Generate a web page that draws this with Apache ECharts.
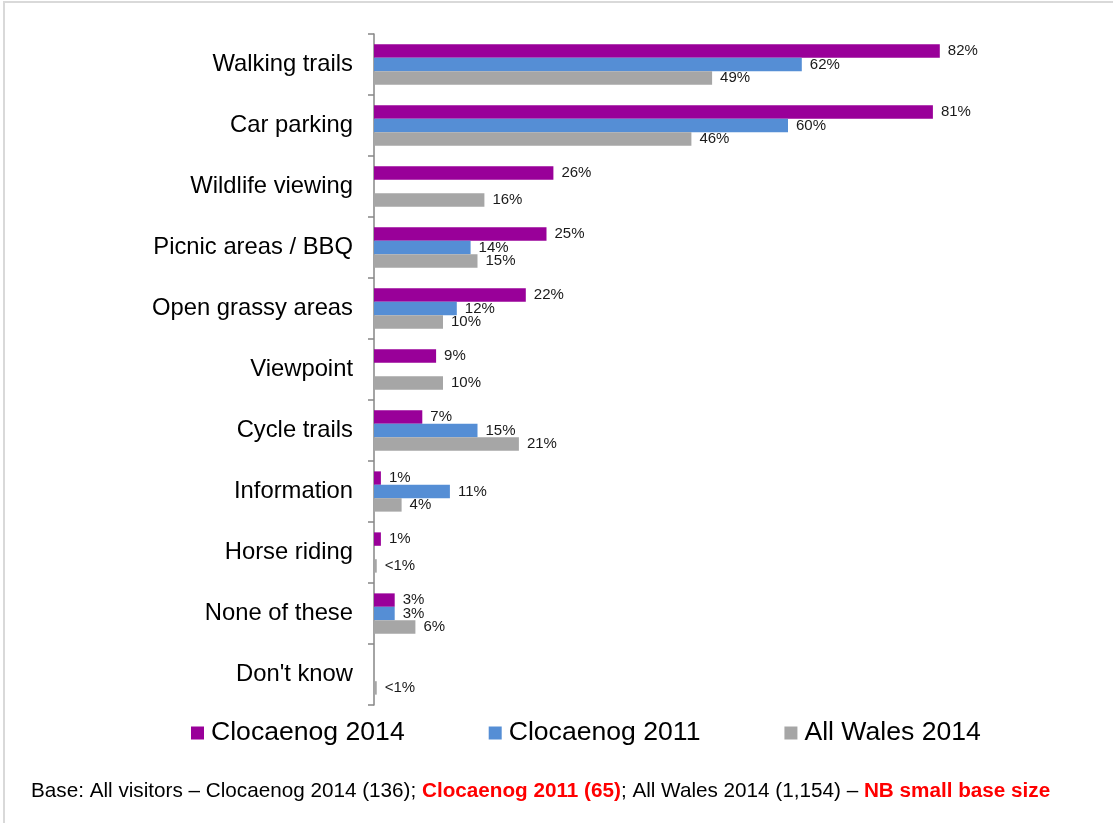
<!DOCTYPE html>
<html>
<head>
<meta charset="utf-8">
<script src="https://cdn.jsdelivr.net/npm/echarts@6/dist/echarts.min.js"></script>
<style>
  html, body { margin: 0; padding: 0; background: #fff; }
  #chart { width: 1113px; height: 823px; }
</style>
</head>
<body>
<div id="chart"></div>
<script>
// Facilities used on the visit (% of visitors)
const categories = [
  'Walking trails', 'Car parking', 'Wildlife viewing', 'Picnic areas / BBQ',
  'Open grassy areas', 'Viewpoint', 'Cycle trails', 'Information',
  'Horse riding', 'None of these', "Don't know"
];
const seriesNames = ['Clocaenog 2014', 'Clocaenog 2011', 'All Wales 2014'];
// null = no bar for that wave; values under 1 are shown as "<1%"
const clocaenog2014 = [82, 81, 26, 25, 22, 9, 7, 1, 1, 3, null];
const clocaenog2011 = [62, 60, null, 14, 12, null, 15, 11, null, 3, null];
const allWales2014 = [49, 46, 16, 15, 10, 10, 21, 4, 0.4, 6, 0.4];
const seriesColors = ['#990099', '#558ED5', '#A6A6A6'];

const FONT = 'Arial, "Liberation Sans", Helvetica, sans-serif';

function pctLabel(p) {
  const v = p.value;
  if (v == null) return '';
  return v < 1 ? '<1%' : v + '%';
}

function makeSeries(name, data, color) {
  return {
    name: name,
    type: 'bar',
    data: data,
    barGap: '0%',
    barCategoryGap: '34%',
    itemStyle: { color: color },
    label: {
      show: true,
      position: 'right',
      distance: 8,
      formatter: pctLabel,
      color: '#1a1a1a',
      fontFamily: FONT,
      fontSize: 15
    },
    emphasis: { disabled: true },
    animation: false
  };
}

const chart = echarts.init(document.getElementById('chart'), null, { renderer: 'canvas' });

chart.setOption({
  backgroundColor: '#ffffff',
  animation: false,
  grid: { left: 374, right: 49, top: 34, bottom: 118, containLabel: false },
  xAxis: {
    type: 'value',
    min: 0,
    max: 100,
    show: false
  },
  yAxis: {
    type: 'category',
    data: categories,
    inverse: true,
    axisLine: { show: true, lineStyle: { color: '#868686', width: 1.5 } },
    axisTick: { show: true, length: 6, lineStyle: { color: '#868686', width: 1.5 } },
    axisLabel: {
      margin: 21,
      color: '#000000',
      fontFamily: FONT,
      fontSize: 23.8
    },
    splitLine: { show: false }
  },
  legend: {
    data: seriesNames,
    left: 191,
    top: 718,
    padding: 0,
    itemWidth: 13,
    itemHeight: 13,
    itemGap: 84,
    icon: 'rect',
    selectedMode: false,
    textStyle: {
      color: '#000000',
      fontFamily: FONT,
      fontSize: 26.6,
      lineHeight: 30,
      padding: [0, 0, 0, 2]
    }
  },
  graphic: [
    {
      type: 'rect',
      shape: { x: 4, y: 2, width: 1200, height: 1000 },
      style: { fill: 'none', stroke: '#d9d9d9', lineWidth: 2 },
      silent: true
    },
    {
      type: 'text',
      left: 31,
      top: 781,
      style: {
        text: '{n|Base: All visitors \u2013 Clocaenog 2014 (136); }{r|Clocaenog 2011 (65)}{n|; All Wales 2014 (1,154) \u2013 }{r|NB small base size}',
        font: '20.7px ' + FONT,
        rich: {
          n: { fontFamily: FONT, fontSize: 20.7, fill: '#000000' },
          r: { fontFamily: FONT, fontSize: 20.7, fontWeight: 'bold', fill: '#FF0000' }
        }
      },
      silent: true
    }
  ],
  series: [
    makeSeries(seriesNames[0], clocaenog2014, seriesColors[0]),
    makeSeries(seriesNames[1], clocaenog2011, seriesColors[1]),
    makeSeries(seriesNames[2], allWales2014, seriesColors[2])
  ]
});
</script>
</body>
</html>
